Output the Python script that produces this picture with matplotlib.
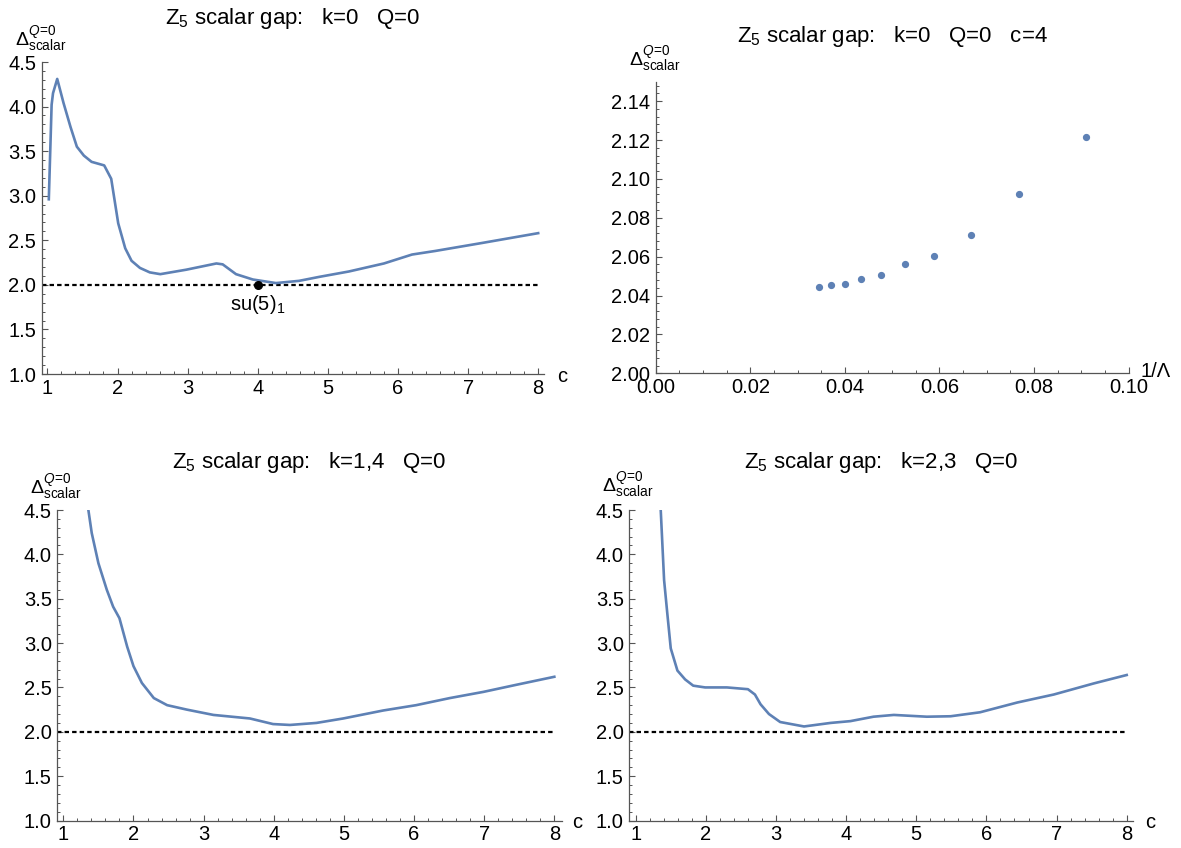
import matplotlib
matplotlib.use("Agg")
import matplotlib.pyplot as plt
from matplotlib.ticker import MultipleLocator, FormatStrFormatter

plt.rcParams['font.family'] = ['Liberation Sans', 'DejaVu Sans']
plt.rcParams['mathtext.fontset'] = 'custom'
plt.rcParams['mathtext.rm'] = 'Liberation Sans'
plt.rcParams['mathtext.it'] = 'Liberation Sans:italic'
plt.rcParams['mathtext.bf'] = 'Liberation Sans:bold'

# ---------------- data ----------------
# k=0, Q=0
c_k0 = [1.02, 1.06, 1.08, 1.14, 1.23, 1.33, 1.42, 1.52, 1.63, 1.81, 1.91, 2.01, 2.11, 2.20,
        2.32, 2.46, 2.61, 2.98, 3.41, 3.50, 3.69, 3.93, 4.26, 4.59, 4.88, 5.30, 5.80, 6.20,
        6.53, 7.20, 8.00]
gap_k0 = [2.96, 4.02, 4.15, 4.31, 4.04, 3.77, 3.55, 3.45, 3.38, 3.34, 3.19, 2.69, 2.41, 2.27,
          2.19, 2.14, 2.12, 2.17, 2.24, 2.23, 2.12, 2.06, 2.02, 2.045, 2.09, 2.15, 2.24, 2.34,
          2.38, 2.47, 2.58]

# k=0, Q=0, c=4 : 1/Lambda scan
inv_lambda = [1/29, 1/27, 1/25, 1/23, 1/21, 1/19, 1/17, 1/15, 1/13, 1/11]
gap_c4 = [2.0446, 2.0452, 2.0460, 2.0484, 2.0507, 2.0563, 2.0604, 2.0713, 2.0921, 2.1213]

# k=1,4, Q=0
c_k14 = [1.357, 1.405, 1.50, 1.62, 1.71, 1.80, 1.91, 2.00, 2.12, 2.29, 2.48, 2.76, 3.14,
         3.66, 3.99, 4.23, 4.61, 4.99, 5.56, 6.03, 6.51, 6.99, 7.46, 8.00]
gap_k14 = [4.50, 4.24, 3.90, 3.60, 3.41, 3.28, 2.96, 2.74, 2.55, 2.38, 2.30, 2.25, 2.19,
           2.15, 2.087, 2.077, 2.10, 2.15, 2.24, 2.30, 2.38, 2.45, 2.53, 2.62]

# k=2,3, Q=0
c_k23 = [1.357, 1.405, 1.45, 1.50, 1.595, 1.705, 1.82, 1.99, 2.30, 2.60, 2.70, 2.78, 2.90,
         3.06, 3.40, 3.78, 4.06, 4.39, 4.68, 5.15, 5.49, 5.91, 6.44, 6.96, 7.53, 8.00]
gap_k23 = [4.50, 3.71, 3.34, 2.94, 2.69, 2.59, 2.52, 2.50, 2.50, 2.48, 2.42, 2.31, 2.20,
           2.11, 2.06, 2.10, 2.12, 2.17, 2.19, 2.17, 2.175, 2.22, 2.33, 2.42, 2.545, 2.64]

su5_point = (4.0, 2.0)
bound = 2.0

titles = [r'Z$_5$ scalar gap:   k=0   Q=0',
          r'Z$_5$ scalar gap:   k=0   Q=0   c=4',
          r'Z$_5$ scalar gap:   k=1,4   Q=0',
          r'Z$_5$ scalar gap:   k=2,3   Q=0']
ylab = r'$\Delta^{Q\!=\!0}_{\mathrm{scalar}}$'

# ---------------- figure ----------------
W, H = 1181, 848
fig = plt.figure(figsize=(W/100, H/100), dpi=100)

def px_axes(x0, y0, x1, y1):
    return fig.add_axes([x0/W, 1 - y1/H, (x1-x0)/W, (y1-y0)/H])

def ftxt(x, y, s, **kw):
    return fig.text(x/W, 1 - y/H, s, **kw)

BLUE = '#5E81B5'
AXC = '#555555'
TICKFS = 14.5
TITLEFS = 16

def style(ax):
    for s in ['top', 'right']:
        ax.spines[s].set_visible(False)
    for s in ['left', 'bottom']:
        ax.spines[s].set_color(AXC)
        ax.spines[s].set_linewidth(0.9)
    ax.tick_params(which='both', direction='in', color=AXC, labelsize=TICKFS, labelcolor='black')
    ax.tick_params(which='major', length=4.5, width=0.8)
    ax.tick_params(which='minor', length=2.5, width=0.7)
    ax.tick_params(axis='x', which='major', pad=3.5)
    ax.tick_params(axis='y', which='major', pad=4)
    ax.patch.set_alpha(0)

def c_axes(ax, xlim):
    ax.set_xlim(*xlim)
    ax.set_ylim(1.0, 4.5)
    ax.xaxis.set_major_locator(MultipleLocator(1))
    ax.xaxis.set_minor_locator(MultipleLocator(0.2))
    ax.yaxis.set_major_locator(MultipleLocator(0.5))
    ax.yaxis.set_minor_locator(MultipleLocator(0.1))
    ax.yaxis.set_major_formatter(FormatStrFormatter('%.1f'))
    ax.xaxis.set_major_formatter(FormatStrFormatter('%d'))
    style(ax)
    ax.plot([xlim[0], 8.0], [bound, bound], color='black', lw=1.6,
            linestyle=(0, (2.0, 1.4)), zorder=2)

# top-left
ax1 = px_axes(41.8, 62, 543.8, 374)
c_axes(ax1, (0.92, 8.08))
ax1.plot(c_k0, gap_k0, color=BLUE, lw=1.9, zorder=3)
ax1.plot([su5_point[0]], [su5_point[1]], 'o', color='black', ms=5.5, zorder=4)
ax1.text(su5_point[0], su5_point[1] - 0.22, r'su(5)$_1$', ha='center', va='center', fontsize=TICKFS)

# top-right
ax2 = px_axes(655.7, 81.7, 1128.5, 373.3)
ax2.set_xlim(0, 0.1)
ax2.set_ylim(2.0, 2.15)
ax2.xaxis.set_major_locator(MultipleLocator(0.02))
ax2.xaxis.set_minor_locator(MultipleLocator(0.005))
ax2.yaxis.set_major_locator(MultipleLocator(0.02))
ax2.yaxis.set_minor_locator(MultipleLocator(0.004))
ax2.xaxis.set_major_formatter(FormatStrFormatter('%.2f'))
ax2.yaxis.set_major_formatter(FormatStrFormatter('%.2f'))
style(ax2)
ax2.plot(inv_lambda, gap_c4, 'o', color=BLUE, ms=4.2, zorder=3)

# bottom-left
ax3 = px_axes(57.3, 510, 561.7, 820.5)
c_axes(ax3, (0.914, 8.105))
ax3.plot(c_k14, gap_k14, color=BLUE, lw=1.9, zorder=3)

# bottom-right
ax4 = px_axes(629.3, 510, 1133.3, 820.5)
c_axes(ax4, (0.909, 8.094))
ax4.plot(c_k23, gap_k23, color=BLUE, lw=1.9, zorder=3)

# titles (pixel positions: center x, baseline y)
title_pos = [(293, 24), (892, 42), (309, 468), (881, 468)]
for t, (x, y) in zip(titles, title_pos):
    ftxt(x, y, t, ha='center', va='baseline', fontsize=TITLEFS)

# y labels (left x, baseline y of the Delta)
ylab_pos = [(15, 46), (629, 66), (30, 494), (602, 492)]
for (x, y) in ylab_pos:
    ftxt(x, y, ylab, ha='left', va='baseline', fontsize=14)

# x labels
xlab = [('c', 557, 376), ('1/\u039b', 1141, 372), ('c', 572, 823), ('c', 1145, 823)]
for t, x, y in xlab:
    ftxt(x, y, t, ha='left', va='center', fontsize=TICKFS)

fig.savefig('out.png', dpi=100)
